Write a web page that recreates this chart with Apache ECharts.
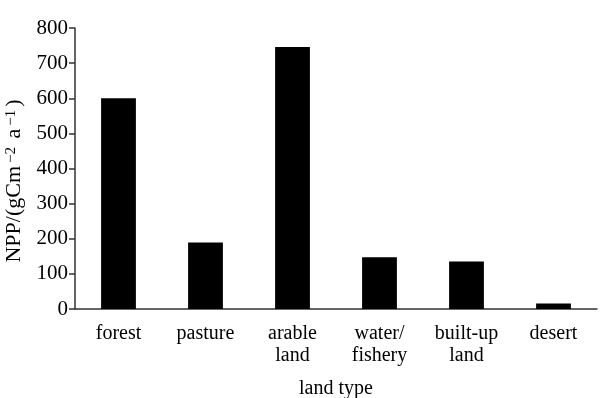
<!DOCTYPE html>
<html>
<head>
<meta charset="utf-8">
<script src="https://cdn.jsdelivr.net/npm/echarts@6/dist/echarts.min.js"></script>
<style>
html, body { margin: 0; padding: 0; background: #fff; }
#main { width: 600px; height: 398px; }
</style>
</head>
<body>
<div id="main"></div>
<script>
// 数据
var categories = ['forest', 'pasture', 'arable\nland', 'water/\nfishery', 'built-up\nland', 'desert'];
var nppValues = [600, 189, 746, 147, 135, 16];
var yTicks = [0, 100, 200, 300, 400, 500, 600, 700, 800];

var font = '"Liberation Serif", "Times New Roman", serif';
var myChart = echarts.init(document.getElementById('main'));
var option = {
    backgroundColor: '#fff',
    animation: false,
    grid: { left: 75, right: 3, top: 28, bottom: 89, containLabel: false, outerBoundsMode: 'none' },
    xAxis: {
        type: 'category',
        data: categories,
        name: 'land type',
        nameLocation: 'middle',
        nameGap: 70,
        nameTextStyle: { fontFamily: font, fontSize: 20, color: '#000' },
        axisLine: { lineStyle: { color: '#333', width: 1.5 } },
        axisTick: { show: false },
        axisLabel: { fontFamily: font, fontSize: 20, color: '#000', lineHeight: 22, margin: 14, interval: 0 }
    },
    yAxis: {
        type: 'value',
        min: yTicks[0],
        max: yTicks[yTicks.length - 1],
        interval: 100,
        name: '{n|NPP/(gCm}{s|−2}{n| a}{s|−1}{n|)}',
        nameLocation: 'middle',
        nameGap: 48,
        nameTextStyle: {
            padding: [0, 25, 0, 0],
            rich: {
                n: { fontFamily: font, fontSize: 22, color: '#000' },
                s: { fontFamily: font, fontSize: 15, color: '#000', verticalAlign: 'top', padding: [0, 3, 0, 3] }
            }
        },
        splitLine: { show: false },
        axisLine: { show: true, lineStyle: { color: '#333', width: 1.5 } },
        axisTick: { show: true, length: 6, lineStyle: { color: '#333', width: 1.5 } },
        axisLabel: { fontFamily: font, fontSize: 21, color: '#000', margin: 7 }
    },
    series: [{
        type: 'bar',
        data: nppValues,
        barWidth: '40%',
        itemStyle: { color: '#000' }
    }]
};
myChart.setOption(option);
</script>
</body>
</html>
